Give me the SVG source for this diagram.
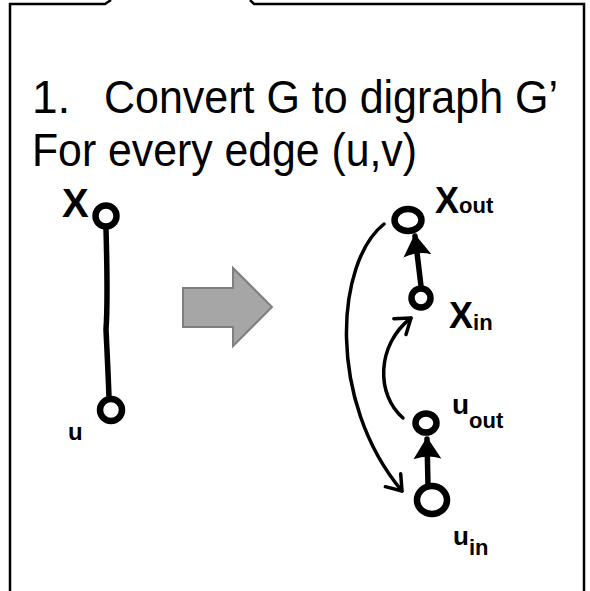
<svg xmlns="http://www.w3.org/2000/svg" width="590" height="591" viewBox="0 0 590 591">
<defs>
<style>
.frame{fill:none;stroke:#000;stroke-width:2.5}
.title{font-family:"Liberation Sans",Arial,sans-serif;font-size:46px;fill:#000}
.hand{font-family:"Liberation Sans",Arial,sans-serif;font-weight:bold;fill:#000}
.node{fill:#fff;stroke:#000;stroke-width:6.5}
.edge{fill:none;stroke:#000;stroke-width:5.5;stroke-linecap:round}
.curve{fill:none;stroke:#000;stroke-width:3.5;stroke-linecap:round}
.bigarrow{fill:#a6a6a6;stroke:#7f7f7f;stroke-width:2}
</style>
<marker id="tri" viewBox="0 0 22 28" refX="20" refY="14" markerWidth="22" markerHeight="28" markerUnits="userSpaceOnUse" orient="auto">
<path d="M0,0 L22,14 L0,28 Q5,14 0,0 z" fill="#000"/>
</marker>
<marker id="barb" viewBox="0 0 20 24" refX="16" refY="12" markerWidth="20" markerHeight="24" markerUnits="userSpaceOnUse" orient="auto">
<path d="M2,2 L16,12 L2,22" fill="none" stroke="#000" stroke-width="3.5" stroke-linecap="round" stroke-linejoin="round"/>
</marker>
</defs>
<rect width="590" height="591" fill="#fff"/>
<g id="frame">
<path class="frame" d="M10,591 L10,4 L105,4 L111,0"/>
<path class="frame" d="M250,0 L254,4 L584,4 L584,591"/>
</g>
<g id="title">
<text class="title" x="32" y="113">1.</text>
<text class="title" x="104" y="113" textLength="454" lengthAdjust="spacingAndGlyphs">Convert G to digraph G’</text>
<text class="title" x="32" y="166" textLength="385" lengthAdjust="spacingAndGlyphs">For every edge (u,v)</text>
</g>
<g id="big-arrow">
<path class="bigarrow" d="M183,288 L233,288 L233,268 L272,307 L233,346 L233,327 L183,327 z"/>
</g>
<g id="connectors">
<path class="edge" d="M106,229 Q108,300 106,330 Q108,370 109,397"/>
<path class="edge" d="M421,286 L415,236" marker-end="url(#tri)"/>
<path class="edge" d="M428,486 L427,439" marker-end="url(#tri)"/>
<path class="curve" d="M384,224 C336,262 326,400 402,491" marker-end="url(#barb)"/>
<path class="curve" d="M403,418 C376,395 376,345 411,318" marker-end="url(#barb)"/>
</g>
<g id="node-x">
<circle class="node" cx="106" cy="216" r="10.5"/>
<text class="hand" x="62" y="217" font-size="40">X</text>
</g>
<g id="node-u">
<circle class="node" cx="111" cy="410" r="11"/>
<text class="hand" x="68" y="440" font-size="24">u</text>
</g>
<g id="node-xout">
<ellipse class="node" cx="408" cy="220" rx="13.5" ry="11"/>
<text class="hand" x="435" y="213" font-size="36">X<tspan font-size="22">out</tspan></text>
</g>
<g id="node-xin">
<circle class="node" cx="421" cy="298" r="9.5"/>
<text class="hand" x="449" y="328" font-size="36">X<tspan font-size="22" dy="2">in</tspan></text>
</g>
<g id="node-uout">
<ellipse class="node" cx="426" cy="423" rx="10.5" ry="9.5"/>
<text class="hand" x="452" y="414" font-size="28">u<tspan font-size="22" dy="14">out</tspan></text>
</g>
<g id="node-uin">
<ellipse class="node" cx="432" cy="500" rx="15" ry="14"/>
<text class="hand" x="453" y="545" font-size="26">u<tspan font-size="22" dy="10">in</tspan></text>
</g>
</svg>
